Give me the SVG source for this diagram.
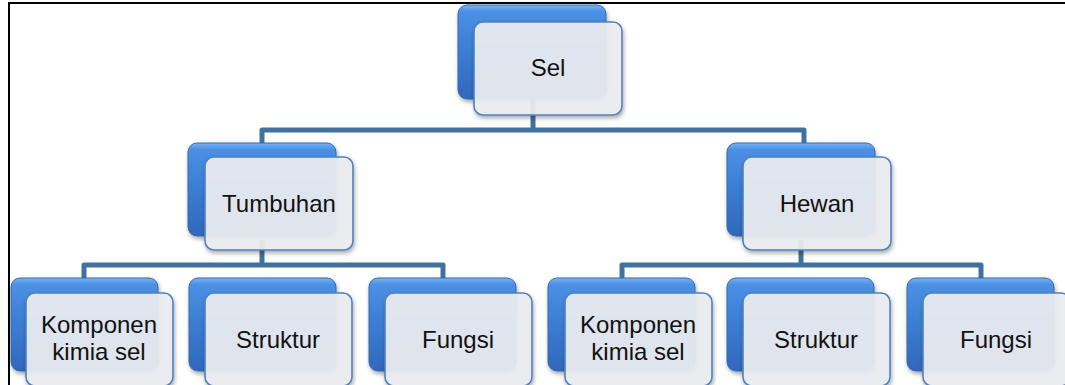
<svg xmlns="http://www.w3.org/2000/svg" width="1065" height="385" viewBox="0 0 1065 385">
  <defs>
    <linearGradient id="blueFill" x1="0" y1="0" x2="0" y2="1">
      <stop offset="0" stop-color="#7ab3f2"/>
      <stop offset="0.07" stop-color="#4b90e4"/>
      <stop offset="0.45" stop-color="#3d7fd6"/>
      <stop offset="1" stop-color="#2f68bb"/>
    </linearGradient>
    <filter id="shadow" x="-10%" y="-10%" width="125%" height="130%">
      <feDropShadow dx="1" dy="2.5" stdDeviation="2" flood-color="#000" flood-opacity="0.35"/>
    </filter>
    <style>
      .back { fill: url(#blueFill); stroke: #3569b0; stroke-width: 1; filter: url(#shadow); }
      .front { fill: #eceef2; fill-opacity: 0.92; stroke: #4f81bd; stroke-width: 1.6; filter: url(#shadow); }
      .lbl { font-family: "Liberation Sans", Arial, sans-serif; font-size: 24px; fill: #111; text-anchor: middle; }
      .link { fill: none; stroke: #41719f; stroke-width: 5; stroke-linejoin: round; }
      .frame { stroke: #000; stroke-width: 2; fill: none; }
    </style>
  </defs>

  <rect width="1065" height="385" fill="#fff"/>

  <!-- outer frame -->
  <path class="frame" d="M9 385 V3 H1065"/>

  <!-- connectors -->
  <g id="connectors">
    <path class="link" d="M533 99 V130"/>
    <path class="link" d="M262 143 V130 H804 V143"/>
    <path class="link" d="M262 240 V265"/>
    <path class="link" d="M84 278 V265 H443 V278"/>
    <path class="link" d="M801 240 V265"/>
    <path class="link" d="M622 278 V265 H981 V278"/>
  </g>

  <!-- level 1 -->
  <g id="node-sel">
    <rect class="back" x="458" y="5" width="148" height="94" rx="9"/>
    <rect class="front" x="474" y="22" width="148" height="93" rx="9"/>
    <text class="lbl" x="548" y="76">Sel</text>
  </g>

  <!-- level 2 -->
  <g id="node-tumbuhan">
    <rect class="back" x="188" y="143" width="148" height="93" rx="9"/>
    <rect class="front" x="205" y="157" width="148" height="93" rx="9"/>
    <text class="lbl" x="279" y="212">Tumbuhan</text>
  </g>
  <g id="node-hewan">
    <rect class="back" x="727" y="143" width="148" height="93" rx="9"/>
    <rect class="front" x="743" y="157" width="148" height="93" rx="9"/>
    <text class="lbl" x="817" y="212">Hewan</text>
  </g>

  <!-- level 3, left branch -->
  <g id="node-komponen-tumbuhan">
    <rect class="back" x="11" y="278" width="147" height="93" rx="9"/>
    <rect class="front" x="26" y="293" width="147" height="93" rx="9"/>
    <text class="lbl" x="99" y="333">Komponen</text>
    <text class="lbl" x="99" y="360">kimia sel</text>
  </g>
  <g id="node-struktur-tumbuhan">
    <rect class="back" x="189" y="278" width="147" height="93" rx="9"/>
    <rect class="front" x="205" y="293" width="147" height="93" rx="9"/>
    <text class="lbl" x="278" y="348">Struktur</text>
  </g>
  <g id="node-fungsi-tumbuhan">
    <rect class="back" x="369" y="278" width="147" height="93" rx="9"/>
    <rect class="front" x="385" y="293" width="147" height="93" rx="9"/>
    <text class="lbl" x="458" y="348">Fungsi</text>
  </g>

  <!-- level 3, right branch -->
  <g id="node-komponen-hewan">
    <rect class="back" x="548" y="278" width="147" height="93" rx="9"/>
    <rect class="front" x="565" y="293" width="147" height="93" rx="9"/>
    <text class="lbl" x="638" y="333">Komponen</text>
    <text class="lbl" x="638" y="360">kimia sel</text>
  </g>
  <g id="node-struktur-hewan">
    <rect class="back" x="727" y="278" width="147" height="93" rx="9"/>
    <rect class="front" x="743" y="293" width="147" height="93" rx="9"/>
    <text class="lbl" x="816" y="348">Struktur</text>
  </g>
  <g id="node-fungsi-hewan">
    <rect class="back" x="907" y="278" width="147" height="93" rx="9"/>
    <rect class="front" x="923" y="293" width="147" height="93" rx="9"/>
    <text class="lbl" x="996" y="348">Fungsi</text>
  </g>
</svg>
